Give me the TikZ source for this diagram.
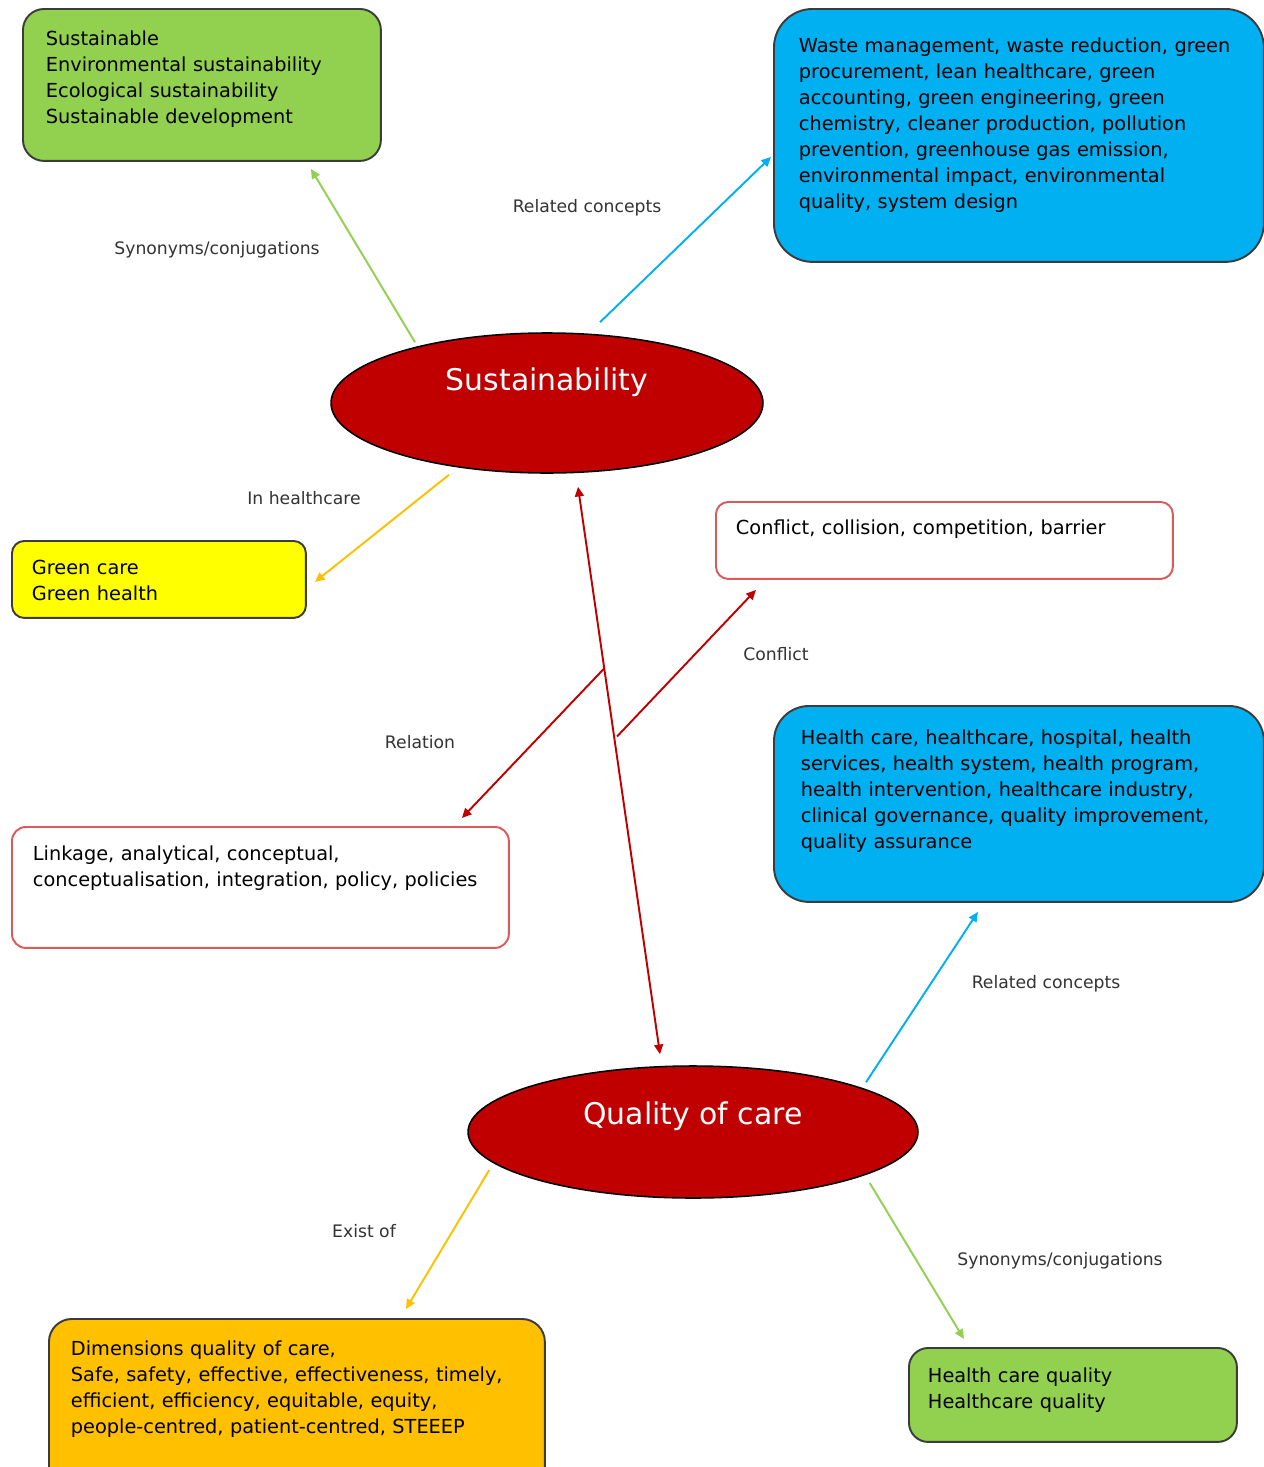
\documentclass[tikz,border=0pt]{standalone}
\usepackage{fontspec}
\setmainfont{DejaVu Sans}
\usepackage{tikz}
\usetikzlibrary{shapes.geometric, arrows.meta}
\definecolor{mapgreen}{HTML}{92D050}
\definecolor{mapblue}{HTML}{00B0F0}
\definecolor{mapyellow}{HTML}{FFFF00}
\definecolor{maporange}{HTML}{FFC000}
\definecolor{mapred}{HTML}{C00000}
\definecolor{mapline}{HTML}{3C3C3C}
\definecolor{mapborder}{HTML}{DC5A5A}

\begin{document}
\begin{tikzpicture}[
    x=0.02cm, y=0.02cm,
    >={Triangle[length=5.5pt, width=5pt]},
    box/.style={rectangle, draw=mapline, line width=1.1pt, anchor=north west, align=left, inner ysep=0pt, font=\fontsize{11}{14.8}\selectfont},
    openbox/.style={box, draw=mapborder, fill=white},
    topic/.style={ellipse, draw=black, line width=0.9pt, fill=mapred, inner sep=0pt, text=white, font=\fontsize{17}{20}\selectfont, text height=0pt},
    rel/.style={font=\fontsize{9.8}{12}\selectfont, text=black!80},
    conn/.style={->, line width=1.1pt}
]
\useasboundingbox[fill=white] (0,0) rectangle (1264,-1467);

% Topics
\node[topic, minimum width=8.64cm, minimum height=2.8cm, text depth=14.8pt] (sust) at (547,-403) {Sustainability};
\node[topic, minimum width=9cm, minimum height=2.64cm, text depth=8pt] (qoc) at (693,-1132) {Quality of care};

% Boxes
\node[box, fill=mapgreen, rounded corners=12pt, inner xsep=0.46cm, text width=6.24cm, text height=0.74cm, text depth=2.3cm] (gsyn) at (22,-8)
    {Sustainable\\Environmental sustainability\\Ecological sustainability\\Sustainable development};
\node[box, fill=mapblue, rounded corners=22pt, inner xsep=0.5cm, text width=8.8cm, text height=0.88cm, text depth=4.18cm] (srel) at (773,-8)
    {Waste management, waste reduction, green\\procurement, lean healthcare, green\\accounting, green engineering, green\\chemistry, cleaner production, pollution\\prevention, greenhouse gas emission,\\environmental impact, environmental\\quality, system design};
\node[box, fill=mapyellow, rounded corners=7pt, inner xsep=0.4cm, text width=5.08cm, text height=0.68cm, text depth=0.86cm] (gcare) at (11,-540)
    {Green care\\Green health};
\node[openbox, rounded corners=7pt, inner xsep=0.4cm, text width=8.34cm, text height=0.66cm, text depth=0.88cm] (conf) at (715,-501)
    {Conflict, collision, competition, barrier};
\node[box, fill=mapblue, rounded corners=20pt, inner xsep=0.54cm, text width=8.72cm, text height=0.78cm, text depth=3.14cm] (qrel) at (773,-705)
    {Health care, healthcare, hospital, health\\services, health system, health program,\\health intervention, healthcare industry,\\clinical governance, quality improvement,\\quality assurance};
\node[openbox, rounded corners=8pt, inner xsep=0.42cm, text width=9.1cm, text height=0.68cm, text depth=1.74cm] (link) at (11,-826)
    {Linkage, analytical, conceptual,\\conceptualisation, integration, policy, policies};
\node[box, fill=maporange, rounded corners=13pt, inner xsep=0.44cm, text width=9.04cm, text height=0.74cm, text depth=2.8cm] (dims) at (48,-1318)
    {Dimensions quality of care,\\Safe, safety, effective, effectiveness, timely,\\efficient, efficiency, equitable, equity,\\people-centred, patient-centred, STEEEP};
\node[box, fill=mapgreen, rounded corners=11pt, inner xsep=0.38cm, text width=5.8cm, text height=0.7cm, text depth=1.18cm] (qsyn) at (908,-1347)
    {Health care quality\\Healthcare quality};

% Connectors
\draw[conn, color=mapgreen] ([shift={(-132,-10)}]sust.north) -- ([shift={(109,-7)}]gsyn.south);
\draw[conn, color=mapblue] ([shift={(53,10)}]sust.north) -- ([shift={(-2,-21.5)}]srel.west);
\draw[conn, color=maporange] ([shift={(-98,-1)}]sust.south) -- ([shift={(8,-2.5)}]gcare.east);
\draw[conn, <->, color=mapred] ([shift={(31,-13)}]sust.south) -- ([shift={(-33,11)}]qoc.north)
    coordinate[pos=0.32] (relpt) coordinate[pos=0.44] (cnfpt);
\draw[conn, color=mapred] (relpt) -- ([shift={(201.5,8)}]link.north);
\draw[conn, color=mapred] ([shift={(3,0)}]cnfpt) -- ([shift={(-188.5,-10)}]conf.south);
\draw[conn, color=mapblue] ([shift={(173,-17)}]qoc.north) -- ([shift={(-41,-9)}]qrel.south);
\draw[conn, color=maporange] ([shift={(22,-38)}]qoc.west) -- ([shift={(109,9)}]dims.north);
\draw[conn, color=mapgreen] ([shift={(-49,-51)}]qoc.east) -- ([shift={(-109,8)}]qsyn.north);

% Labels
\node[rel] (lsyn1) at (217,-250) {Synonyms/conjugations};
\node[rel] (lrel1) at (587,-208) {Related concepts};
\node[rel] (lhc) at (304,-498) {In healthcare};
\node[rel] (lrelation) at (420,-742) {Relation};
\node[rel] (lconf) at (776,-654) {Conflict};
\node[rel] (lrel2) at (1046,-984) {Related concepts};
\node[rel] (lexist) at (364,-1231) {Exist of};
\node[rel] (lsyn2) at (1060,-1261) {Synonyms/conjugations};

\end{tikzpicture}
\end{document}
